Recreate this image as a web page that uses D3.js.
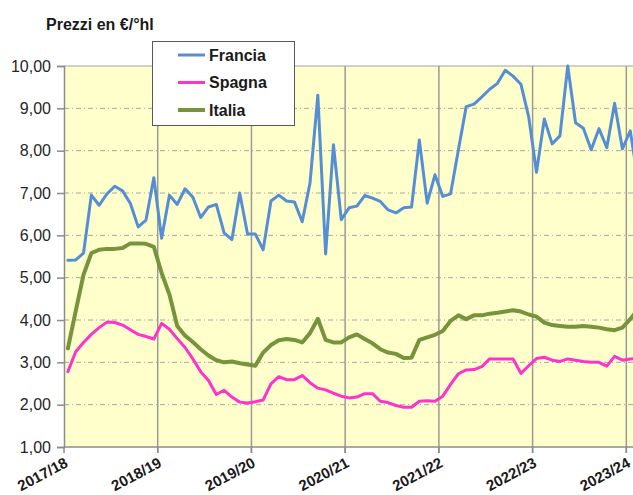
<!DOCTYPE html>
<html>
<head>
<meta charset="utf-8">
<script src="https://cdn.jsdelivr.net/npm/d3@7"></script>
<style>
  html, body { margin: 0; padding: 0; background: #ffffff; }
  svg { display: block; font-family: "Liberation Sans", Arial, sans-serif; }
</style>
</head>
<body>
<svg id="chart" width="633" height="495"></svg>
<script>
// ---- DATA ----
const title = "Prezzi en €/°hl";
// monthly categories Aug 2017 .. Sep 2023
const months = d3.timeMonth.range(new Date(2017, 7, 1), new Date(2023, 9, 1)).map(d3.timeFormat("%Y-%m"));
const yearLabels = ["2017/18", "2018/19", "2019/20", "2020/21", "2021/22", "2022/23", "2023/24"];
const yearStarts = ["2017-08", "2018-08", "2019-08", "2020-08", "2021-08", "2022-08", "2023-08"];
const yTicks = [1, 2, 3, 4, 5, 6, 7, 8, 9, 10];

const francia = [5.41,5.42,5.58,6.95,6.71,6.98,7.16,7.05,6.75,6.20,6.36,7.36,
                 5.93,6.95,6.73,7.10,6.90,6.42,6.67,6.73,6.06,5.90,7.00,6.03,
                 6.03,5.66,6.81,6.95,6.81,6.79,6.32,7.24,9.31,5.56,8.14,6.37,
                 6.65,6.69,6.94,6.88,6.80,6.60,6.53,6.65,6.67,8.25,6.76,7.43,
                 6.92,6.98,8.02,9.04,9.10,9.27,9.45,9.59,9.90,9.76,9.57,8.80,
                 7.49,8.75,8.16,8.35,10.00,8.66,8.53,8.02,8.52,8.07,9.12,8.04,
                 8.47,7.30];
const spagna  = [2.78,3.25,3.47,3.66,3.82,3.95,3.94,3.88,3.77,3.66,3.61,3.55,
                 3.92,3.78,3.56,3.35,3.08,2.78,2.57,2.24,2.34,2.18,2.06,2.04,
                 2.07,2.11,2.49,2.66,2.59,2.59,2.69,2.52,2.39,2.35,2.27,2.20,
                 2.16,2.18,2.26,2.26,2.08,2.05,1.98,1.94,1.94,2.08,2.09,2.08,
                 2.20,2.48,2.73,2.82,2.83,2.90,3.08,3.08,3.08,3.08,2.74,2.92,
                 3.09,3.12,3.05,3.02,3.08,3.05,3.02,3.00,3.00,2.91,3.14,3.05,
                 3.08,3.10];
const italia  = [3.33,4.21,5.07,5.58,5.66,5.68,5.68,5.70,5.81,5.81,5.80,5.73,
                 5.11,4.60,3.86,3.63,3.48,3.31,3.16,3.05,3.00,3.02,2.98,2.95,
                 2.92,3.23,3.41,3.52,3.55,3.53,3.47,3.69,4.03,3.53,3.47,3.47,
                 3.59,3.66,3.55,3.45,3.31,3.23,3.20,3.10,3.11,3.53,3.59,3.65,
                 3.74,3.98,4.11,4.02,4.11,4.11,4.15,4.17,4.20,4.23,4.20,4.13,
                 4.08,3.94,3.88,3.86,3.84,3.84,3.86,3.84,3.82,3.78,3.76,3.82,
                 4.02,4.25];
const seriesNames = ["Francia", "Spagna", "Italia"];
const seriesValues = [francia, spagna, italia];
const seriesColors = ["#558ED5", "#FF33CC", "#77933C"];
const seriesWidths = [3, 3, 4];

// ---- LAYOUT ----
const svg = d3.select("#chart");
const pLeft = 64, pTop = 66, pBottom = 447;
const bandW = 7.81;
const x = d3.scaleBand().domain(months).range([pLeft, pLeft + months.length * bandW]).padding(0);
const y = d3.scaleLinear().domain([1, 10]).range([pBottom, pTop]);
const pRight = 640;

svg.append("defs").append("clipPath").attr("id", "plotclip")
  .append("rect").attr("x", pLeft).attr("y", 0).attr("width", 633 - pLeft).attr("height", 495);

// plot background
svg.append("rect").attr("x", pLeft).attr("y", pTop).attr("width", pRight - pLeft).attr("height", pBottom - pTop)
  .attr("fill", "#FFFFCC");

// horizontal grid (dash-dot)
svg.append("g").selectAll("line").data(yTicks.filter(v => v > 1 && v < 10)).join("line")
  .attr("x1", pLeft).attr("x2", pRight)
  .attr("y1", d => y(d)).attr("y2", d => y(d))
  .attr("stroke", "#A6A6A6").attr("stroke-width", 1).attr("stroke-dasharray", "5,3,1,3");

// top border
svg.append("line").attr("x1", pLeft).attr("x2", pRight).attr("y1", pTop).attr("y2", pTop)
  .attr("stroke", "#C0C0C0").attr("stroke-width", 1.5);

// vertical year gridlines
svg.append("g").selectAll("line").data(yearStarts.slice(1)).join("line")
  .attr("x1", d => x(d)).attr("x2", d => x(d))
  .attr("y1", pTop).attr("y2", pBottom + 6)
  .attr("stroke", "#9A9A9A").attr("stroke-width", 1.5);

// series lines
const line = d3.line().x((d, i) => x(months[i]) + x.bandwidth() / 2).y(d => y(d));
const gSeries = svg.append("g").attr("clip-path", "url(#plotclip)");
[0, 2, 1].forEach(k => {
  gSeries.append("path").datum(seriesValues[k])
    .attr("d", line).attr("fill", "none")
    .attr("stroke", seriesColors[k]).attr("stroke-width", seriesWidths[k])
    .attr("stroke-linejoin", "round").attr("stroke-linecap", "round");
});

// y axis
const yAxis = d3.axisLeft(y).tickValues(yTicks).tickSize(7).tickPadding(6)
  .tickFormat(d => d3.format(".2f")(d).replace(".", ","));
const gy = svg.append("g").attr("transform", `translate(${pLeft},0)`).call(yAxis);
gy.select(".domain").attr("stroke", "#8C8C8C").attr("stroke-width", 1.5);
gy.selectAll(".tick line").attr("stroke", "#8C8C8C").attr("stroke-width", 1.5);
gy.selectAll(".tick text").attr("font-size", 16).attr("fill", "#262626")
  .attr("font-family", "'Liberation Sans', Arial, sans-serif");

// x axis line
svg.append("line").attr("x1", pLeft).attr("x2", pRight).attr("y1", pBottom).attr("y2", pBottom)
  .attr("stroke", "#8C8C8C").attr("stroke-width", 1.5);
// x tick marks at year starts
svg.append("g").selectAll("line").data(yearStarts).join("line")
  .attr("x1", d => x(d)).attr("x2", d => x(d)).attr("y1", pBottom).attr("y2", pBottom + 6)
  .attr("stroke", "#8C8C8C").attr("stroke-width", 1.5);
// x labels
svg.append("g").selectAll("text").data(yearStarts).join("text")
  .attr("transform", d => `translate(${x(d) + 5},${pBottom + 19}) rotate(-28)`)
  .attr("text-anchor", "end")
  .attr("font-size", 15).attr("font-weight", "bold").attr("fill", "#1a1a1a")
  .text((d, i) => yearLabels[i]);

// title
svg.append("text").attr("x", 46).attr("y", 30).attr("font-size", 16).attr("font-weight", "bold")
  .attr("fill", "#1a1a1a").text(title);

// legend
const lg = svg.append("g");
lg.append("rect").attr("x", 152.5).attr("y", 41.5).attr("width", 142).attr("height", 84)
  .attr("fill", "#ffffff").attr("stroke", "#595959").attr("stroke-width", 1);
seriesNames.forEach((name, i) => {
  const yy = 55 + i * 27.5;
  lg.append("line").attr("x1", 178).attr("x2", 205).attr("y1", yy).attr("y2", yy)
    .attr("stroke", seriesColors[i]).attr("stroke-width", seriesWidths[i]);
  lg.append("text").attr("x", 209).attr("y", yy).attr("dy", "0.36em")
    .attr("font-size", 16).attr("font-weight", "bold").attr("fill", "#1a1a1a").text(name);
});
</script>
</body>
</html>
